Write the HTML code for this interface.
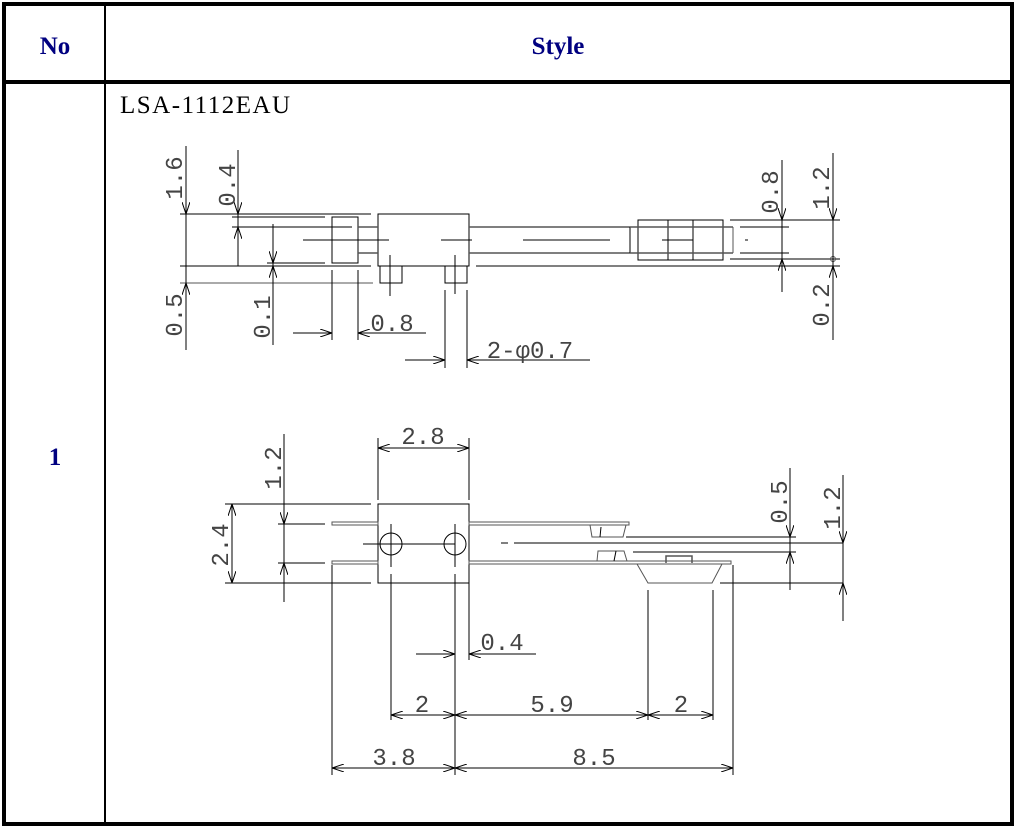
<!DOCTYPE html>
<html><head><meta charset="utf-8"><style>
html,body{margin:0;padding:0;background:#fff;}
svg{display:block;}
</style></head><body>
<svg width="1016" height="833" viewBox="0 0 1016 833" xmlns="http://www.w3.org/2000/svg">
<defs>
<marker id="a" viewBox="0 0 12 8" refX="12" refY="4" markerWidth="12" markerHeight="8" markerUnits="userSpaceOnUse" orient="auto-start-reverse">
<path d="M0,0 L12,4 L0,8" fill="none" stroke="#000" stroke-width="1"/>
</marker>
</defs>
<rect width="1016" height="833" fill="#fff"/>
<!-- table -->
<rect x="4" y="4" width="1008" height="820" fill="none" stroke="#000" stroke-width="4"/>
<line x1="4" y1="82" x2="1012" y2="82" stroke="#000" stroke-width="4"/>
<line x1="105" y1="4" x2="105" y2="824" stroke="#000" stroke-width="2"/>
<g font-family="Liberation Serif, serif" font-weight="bold" font-size="25" fill="#000080" text-anchor="middle">
<text x="55" y="54">No</text>
<text x="558" y="54">Style</text>
<text x="55" y="465">1</text>
</g>
<text x="120" y="113" font-family="Liberation Serif, serif" font-size="25" letter-spacing="1.5" fill="#000">LSA-1112EAU</text>

<g stroke="#000" stroke-width="1" fill="none">
<!-- TOP VIEW -->
<line x1="180" y1="214" x2="371" y2="214"/>
<rect x="378" y="214" width="91" height="52"/>
<line x1="180" y1="266" x2="371" y2="266"/>
<line x1="476" y1="266" x2="840" y2="266"/>
<line x1="180" y1="283" x2="373" y2="283" stroke="#555"/>
<rect x="380" y="266" width="22" height="17"/>
<rect x="445" y="266" width="22" height="17"/>
<line x1="232" y1="217" x2="325" y2="217"/>
<line x1="232" y1="227" x2="352" y2="227" stroke="#555" stroke-width="1.5"/>
<line x1="267" y1="263" x2="325" y2="263"/>
<rect x="332" y="217" width="26" height="46"/>
<line x1="358" y1="227" x2="378" y2="227" stroke="#555" stroke-width="1.5"/>
<line x1="358" y1="253" x2="378" y2="253" stroke="#555" stroke-width="1.5"/>
<line x1="469" y1="227" x2="630" y2="227" stroke="#555" stroke-width="1.5"/>
<line x1="469" y1="253" x2="630" y2="253" stroke="#555" stroke-width="1.5"/>
<line x1="303" y1="240" x2="389" y2="240"/>
<line x1="441" y1="240" x2="472" y2="240"/>
<line x1="523" y1="240" x2="610" y2="240"/>
<line x1="390" y1="255" x2="390" y2="296"/>
<line x1="455" y1="255" x2="455" y2="294"/>
<line x1="630" y1="227" x2="630" y2="253"/>
<rect x="638" y="220" width="85" height="40"/>
<line x1="668" y1="220" x2="668" y2="260"/>
<line x1="693" y1="220" x2="693" y2="260"/>
<line x1="630" y1="227" x2="733" y2="227" stroke="#555" stroke-width="1.5"/>
<line x1="630" y1="253" x2="733" y2="253" stroke="#555" stroke-width="1.5"/>
<line x1="733" y1="227" x2="733" y2="253" stroke="#555"/>
<line x1="662" y1="240" x2="693" y2="240"/>
<line x1="730" y1="220" x2="840" y2="220"/>
<line x1="740" y1="227" x2="789" y2="227" stroke="#555" stroke-width="1.5"/>
<line x1="740" y1="253" x2="789" y2="253" stroke="#555" stroke-width="1.5"/>
<line x1="730" y1="259" x2="840" y2="259" stroke="#555" stroke-width="1.5"/>
<line x1="745" y1="240" x2="748" y2="240"/>
<circle cx="833" cy="259" r="2.5" stroke="#555"/>
<!-- top dims -->
<line x1="186" y1="146" x2="186" y2="350"/>
<line x1="186" y1="180" x2="186" y2="214" marker-end="url(#a)"/>
<line x1="186" y1="320" x2="186" y2="283" marker-end="url(#a)"/>
<line x1="238" y1="150" x2="238" y2="266"/>
<line x1="238" y1="185" x2="238" y2="214" marker-end="url(#a)"/>
<line x1="238" y1="260" x2="238" y2="227" marker-end="url(#a)"/>
<line x1="273" y1="224" x2="273" y2="345"/>
<line x1="273" y1="235" x2="273" y2="263" marker-end="url(#a)"/>
<line x1="273" y1="300" x2="273" y2="266" marker-end="url(#a)"/>
<line x1="332" y1="270" x2="332" y2="340"/>
<line x1="358" y1="270" x2="358" y2="340"/>
<line x1="293" y1="333" x2="332" y2="333" marker-end="url(#a)"/>
<line x1="426" y1="333" x2="358" y2="333" marker-end="url(#a)"/>
<line x1="445" y1="290" x2="445" y2="368"/>
<line x1="467" y1="290" x2="467" y2="368"/>
<line x1="405" y1="360" x2="445" y2="360" marker-end="url(#a)"/>
<line x1="590" y1="360" x2="467" y2="360" marker-end="url(#a)"/>
<line x1="782" y1="160" x2="782" y2="292"/>
<line x1="782" y1="190" x2="782" y2="220" marker-end="url(#a)"/>
<line x1="782" y1="292" x2="782" y2="259" marker-end="url(#a)"/>
<line x1="833" y1="153" x2="833" y2="340"/>
<line x1="833" y1="190" x2="833" y2="220" marker-end="url(#a)"/>
<line x1="833" y1="300" x2="833" y2="266" marker-end="url(#a)"/>

<!-- BOTTOM VIEW -->
<rect x="378" y="504" width="91" height="79"/>
<line x1="225" y1="504" x2="371" y2="504"/>
<line x1="225" y1="583" x2="371" y2="583" stroke="#555" stroke-width="1.5"/>
<line x1="720" y1="583" x2="843" y2="583" stroke="#555" stroke-width="1.5"/>
<line x1="278" y1="524" x2="325" y2="524"/>
<line x1="278" y1="563" x2="325" y2="563" stroke="#555" stroke-width="1.5"/>
<rect x="332" y="522" width="46" height="3" stroke="#555"/>
<rect x="469" y="522" width="160" height="3" stroke="#555"/>
<rect x="332" y="561" width="46" height="3" stroke="#555"/>
<rect x="469" y="561" width="262" height="3" stroke="#555"/>
<path d="M590,525 L592,537 H623 L626,525" stroke="#555"/>
<line x1="601" y1="527" x2="600" y2="537"/>
<path d="M597,561 L598,551 H624 L627,561" stroke="#555"/>
<line x1="616" y1="551" x2="614" y2="561"/>
<line x1="626" y1="537" x2="796" y2="537" stroke="#555" stroke-width="1.5"/>
<line x1="514" y1="543" x2="843" y2="543" stroke="#555" stroke-width="1.5"/>
<line x1="501" y1="543" x2="508" y2="543"/>
<line x1="633" y1="552" x2="796" y2="552" stroke="#555" stroke-width="1.5"/>
<path d="M666,563 V556 H692 V563" stroke="#555" stroke-width="1.5"/>
<path d="M637,564 L648,583 H712 L722,564" stroke="#555"/>
<circle cx="391" cy="544" r="11"/>
<circle cx="455" cy="544" r="11"/>
<line x1="363" y1="544" x2="455" y2="544"/>
<line x1="391" y1="524" x2="391" y2="567"/>
<line x1="455" y1="524" x2="455" y2="567"/>
<line x1="391" y1="574" x2="391" y2="720"/>
<line x1="455" y1="574" x2="455" y2="775"/>
<line x1="469" y1="583" x2="469" y2="660"/>
<line x1="332" y1="565" x2="332" y2="775"/>
<line x1="733" y1="565" x2="733" y2="775"/>
<line x1="648" y1="590" x2="648" y2="720"/>
<line x1="713" y1="590" x2="713" y2="720"/>
<!-- dims bottom -->
<line x1="378" y1="438" x2="378" y2="500"/>
<line x1="469" y1="438" x2="469" y2="500"/>
<line x1="378" y1="448" x2="469" y2="448" marker-start="url(#a)" marker-end="url(#a)"/>
<line x1="232" y1="504" x2="232" y2="583" marker-start="url(#a)" marker-end="url(#a)"/>
<line x1="284" y1="434" x2="284" y2="602"/>
<line x1="284" y1="495" x2="284" y2="524" marker-end="url(#a)"/>
<line x1="284" y1="595" x2="284" y2="563" marker-end="url(#a)"/>
<line x1="790" y1="468" x2="790" y2="590"/>
<line x1="790" y1="505" x2="790" y2="537" marker-end="url(#a)"/>
<line x1="790" y1="585" x2="790" y2="552" marker-end="url(#a)"/>
<line x1="843" y1="475" x2="843" y2="621"/>
<line x1="843" y1="510" x2="843" y2="543" marker-end="url(#a)"/>
<line x1="843" y1="615" x2="843" y2="583" marker-end="url(#a)"/>
<line x1="416" y1="654" x2="455" y2="654" marker-end="url(#a)"/>
<line x1="536" y1="654" x2="469" y2="654" marker-end="url(#a)"/>
<line x1="391" y1="715" x2="455" y2="715" marker-start="url(#a)" marker-end="url(#a)"/>
<line x1="455" y1="715" x2="648" y2="715" marker-start="url(#a)" marker-end="url(#a)"/>
<line x1="648" y1="715" x2="713" y2="715" marker-start="url(#a)" marker-end="url(#a)"/>
<line x1="332" y1="768" x2="455" y2="768" marker-start="url(#a)" marker-end="url(#a)"/>
<line x1="455" y1="768" x2="733" y2="768" marker-start="url(#a)" marker-end="url(#a)"/>
</g>

<g font-family="Liberation Mono, monospace" font-size="24" fill="#444" text-anchor="middle">
<text x="392" y="331">0.8</text>
<text x="530" y="358">2-φ0.7</text>
<text transform="translate(182,178) rotate(-90)">1.6</text>
<text transform="translate(235,185) rotate(-90)">0.4</text>
<text transform="translate(182,315) rotate(-90)">0.5</text>
<text transform="translate(270,317) rotate(-90)">0.1</text>
<text transform="translate(778,192) rotate(-90)">0.8</text>
<text transform="translate(829,188) rotate(-90)">1.2</text>
<text transform="translate(829,305) rotate(-90)">0.2</text>
<text x="423" y="444">2.8</text>
<text transform="translate(228,545) rotate(-90)">2.4</text>
<text transform="translate(281,468) rotate(-90)">1.2</text>
<text transform="translate(787,502) rotate(-90)">0.5</text>
<text transform="translate(840,508) rotate(-90)">1.2</text>
<text x="502" y="650">0.4</text>
<text x="422" y="712">2</text>
<text x="552" y="712">5.9</text>
<text x="681" y="712">2</text>
<text x="394" y="765">3.8</text>
<text x="594" y="765">8.5</text>
</g>
</svg>
</body></html>
